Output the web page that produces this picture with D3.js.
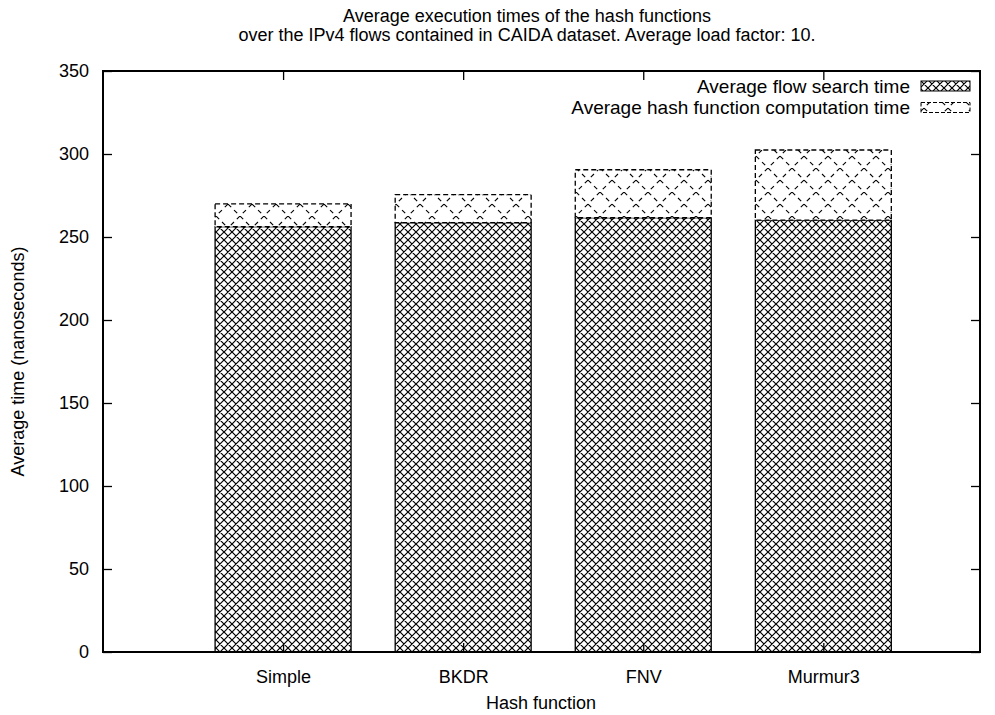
<!DOCTYPE html>
<html>
<head>
<meta charset="utf-8">
<script src="https://cdn.jsdelivr.net/npm/d3@7"></script>
<style>
  body { margin: 0; background: #fff; }
  text { font-family: "Liberation Sans", Arial, Helvetica, sans-serif; fill: #000; }
</style>
</head>
<body>
<svg id="chart" width="995" height="715"></svg>
<script>
// Hash functions benchmarked
const categories = ["Simple", "BKDR", "FNV", "Murmur3"];
// Average flow search time (ns)
const searchTime = [256.2, 258.6, 261.6, 260.2];
// Average hash function computation time (ns), stacked on top
const hashTime = [13.7, 16.9, 28.9, 42.2];
const yTicks = [0, 50, 100, 150, 200, 250, 300, 350];
const seriesNames = ["Average flow search time", "Average hash function computation time"];

const svg = d3.select("#chart");
const plot = { left: 103, right: 980, top: 71, bottom: 652 };
const fontSize = 18;
const legendFontSize = 19;

const x = d3.scaleLinear().domain([-1, 3.87]).range([plot.left, plot.right]);
const y = d3.scaleLinear().domain([0, 350]).range([plot.bottom, plot.top]);
const boxWidth = 0.755;

// Fill patterns: dense crosshatch and sparse dashed crosshatch
const defs = svg.append("defs");
const dense = defs.append("pattern").attr("id", "dense")
  .attr("patternUnits", "userSpaceOnUse").attr("width", 8).attr("height", 8);
dense.append("rect").attr("width", 8).attr("height", 8).attr("fill", "#fff");
dense.append("path").attr("d", "M0,0L8,8M8,0L0,8M-1,7L1,9M7,-1L9,1M-1,1L1,-1M7,9L9,7")
  .attr("stroke", "#000").attr("stroke-width", 1.2).attr("fill", "none");

const sp = 24;
const sparse = defs.append("pattern").attr("id", "sparse")
  .attr("patternUnits", "userSpaceOnUse").attr("width", sp).attr("height", sp);
sparse.append("rect").attr("width", sp).attr("height", sp).attr("fill", "#fff");
sparse.append("path").attr("d", `M0,0L${sp},${sp}M${sp},0L0,${sp}`)
  .attr("stroke", "#000").attr("stroke-width", 1.1).attr("fill", "none")
  .attr("stroke-dasharray", "4.5 4");

// Bars
const g = svg.append("g");
categories.forEach((c, i) => {
  const x0 = x(i - boxWidth / 2), x1 = x(i + boxWidth / 2);
  const base = searchTime[i], top = searchTime[i] + hashTime[i];
  g.append("rect")
    .attr("x", x0).attr("width", x1 - x0)
    .attr("y", y(base)).attr("height", y(0) - y(base))
    .attr("fill", "url(#dense)").attr("stroke", "#000").attr("stroke-width", 1.3);
  g.append("rect")
    .attr("x", x0).attr("width", x1 - x0)
    .attr("y", y(top)).attr("height", y(base) - y(top))
    .attr("fill", "url(#sparse)").attr("stroke", "#000").attr("stroke-width", 1.3)
    .attr("stroke-dasharray", "5 3");
});

// Axes with inward ticks, mirrored on opposite sides
const tickLen = 9;
const yAxisL = d3.axisLeft(y).tickValues(yTicks).tickSize(-tickLen).tickPadding(14).tickFormat(d3.format("d"));
const yAxisR = d3.axisRight(y).tickValues(yTicks).tickSize(-tickLen).tickFormat("");
const xAxisB = d3.axisBottom(x).tickValues(d3.range(categories.length)).tickSize(-tickLen).tickPadding(18)
  .tickFormat(i => categories[i]);
const xAxisT = d3.axisTop(x).tickValues(d3.range(categories.length)).tickSize(-tickLen).tickFormat("");

function styleAxis(sel) {
  sel.select(".domain").remove();
  sel.selectAll(".tick line").attr("stroke", "#000").attr("stroke-width", 1.3);
  sel.selectAll(".tick text").attr("font-size", fontSize).attr("font-family", "Liberation Sans, Arial, sans-serif").attr("fill", "#000");
}
svg.append("g").attr("transform", `translate(${plot.left},0)`).call(yAxisL).call(styleAxis);
svg.append("g").attr("transform", `translate(${plot.right},0)`).call(yAxisR).call(styleAxis);
svg.append("g").attr("transform", `translate(0,${plot.bottom})`).call(xAxisB).call(styleAxis);
svg.append("g").attr("transform", `translate(0,${plot.top})`).call(xAxisT).call(styleAxis);

// Plot border
svg.append("rect")
  .attr("x", plot.left).attr("y", plot.top)
  .attr("width", plot.right - plot.left).attr("height", plot.bottom - plot.top)
  .attr("fill", "none").attr("stroke", "#000").attr("stroke-width", 2);

// Legend (top right, labels right-aligned before the samples)
const legendFills = ["url(#dense)", "url(#sparse)"];
seriesNames.forEach((name, i) => {
  const ly = 86 + i * 21.5;
  svg.append("text").attr("x", 910).attr("y", ly).attr("dy", "0.35em")
    .attr("text-anchor", "end").attr("font-size", legendFontSize).text(name);
  svg.append("rect").attr("x", 921).attr("y", ly - 5).attr("width", 49).attr("height", 10)
    .attr("fill", legendFills[i]).attr("stroke", "#000").attr("stroke-width", 1)
    .attr("stroke-dasharray", i === 1 ? "4 2" : null);
});

// Titles
svg.append("text").attr("x", 527).attr("y", 22).attr("text-anchor", "middle")
  .attr("font-size", fontSize).text("Average execution times of the hash functions");
svg.append("text").attr("x", 527).attr("y", 41).attr("text-anchor", "middle")
  .attr("font-size", fontSize).text("over the IPv4 flows contained in CAIDA dataset. Average load factor: 10.");

svg.append("text").attr("x", 541).attr("y", 709).attr("text-anchor", "middle")
  .attr("font-size", fontSize).text("Hash function");
svg.append("text").attr("transform", `translate(24,${(plot.top + plot.bottom) / 2}) rotate(-90)`)
  .attr("text-anchor", "middle").attr("font-size", fontSize).text("Average time (nanoseconds)");
</script>
</body>
</html>
